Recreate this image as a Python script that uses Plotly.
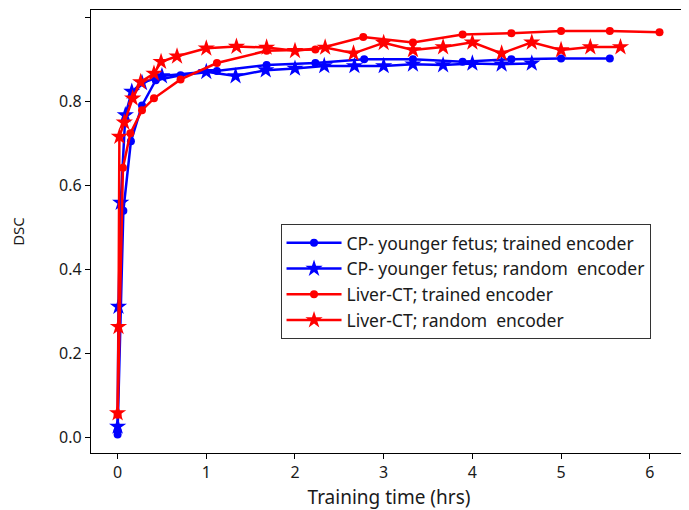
import plotly.graph_objects as go

# CP- younger fetus; trained encoder
cp_trained_x = [0.0, 0.0, 0.065, 0.15, 0.275, 0.43, 0.71, 1.12, 1.68, 2.23, 2.78,
                3.33, 3.89, 4.44, 5.0, 5.55]
cp_trained_y = [0.008, 0.016, 0.54, 0.705, 0.79, 0.85, 0.862, 0.872, 0.886, 0.891, 0.90,
                0.90, 0.894, 0.90, 0.902, 0.902]

# CP- younger fetus; random encoder
cp_random_x = [0.0, 0.01, 0.035, 0.087, 0.16, 0.275, 0.5, 1.0, 1.33, 1.67, 2.0, 2.33,
               2.67, 3.0, 3.33, 3.67, 4.0, 4.33, 4.67]
cp_random_y = [0.027, 0.312, 0.559, 0.767, 0.823, 0.844, 0.86, 0.87, 0.86, 0.874, 0.878,
               0.884, 0.884, 0.884, 0.888, 0.886, 0.89, 0.888, 0.89]

# Liver-CT; trained encoder
liver_trained_x = [0.0, 0.06, 0.144, 0.275, 0.41, 0.71, 1.12, 1.68, 2.23, 2.77, 3.33,
                   3.89, 4.44, 5.0, 5.55, 6.11]
liver_trained_y = [0.055, 0.642, 0.724, 0.779, 0.807, 0.852, 0.891, 0.92, 0.923, 0.953,
                   0.94, 0.959, 0.962, 0.967, 0.967, 0.964]

# Liver-CT; random encoder
liver_random_x = [0.0, 0.01, 0.02, 0.075, 0.17, 0.26, 0.41, 0.49, 0.67, 1.0, 1.34, 1.68,
                  2.0, 2.34, 2.66, 3.0, 3.33, 3.67, 4.0, 4.33, 4.67, 5.0, 5.33, 5.67]
liver_random_y = [0.059, 0.264, 0.716, 0.75, 0.807, 0.846, 0.866, 0.894, 0.907, 0.926,
                  0.93, 0.928, 0.92, 0.928, 0.914, 0.939, 0.922, 0.929, 0.94, 0.914,
                  0.94, 0.922, 0.929, 0.929]

BLUE = "#0000ff"
RED = "#ff0000"
FONT = "Noto Sans, Open Sans, sans-serif"

fig = go.Figure()
series = [
    (cp_trained_x, cp_trained_y, BLUE, "circle", 8, "CP- younger fetus; trained encoder"),
    (cp_random_x, cp_random_y, BLUE, "star", 13, "CP- younger fetus; random  encoder"),
    (liver_trained_x, liver_trained_y, RED, "circle", 8, "Liver-CT; trained encoder"),
    (liver_random_x, liver_random_y, RED, "star", 13, "Liver-CT; random  encoder"),
]
for x, y, col, sym, size, name in series:
    fig.add_trace(go.Scatter(
        x=x, y=y, mode="lines+markers", name=name,
        line=dict(color=col, width=2.5),
        marker=dict(symbol=sym, size=size, color=col, line=dict(width=0)),
    ))

axis = dict(showline=True, linecolor="black", linewidth=1.3, mirror=True,
            ticks="outside", ticklen=5, tickcolor="black", showgrid=False,
            zeroline=False, automargin=False, tickfont=dict(size=16, color="#1a1a1a"))

# page body keeps an 8px margin, so the figure is drawn 8px smaller
fig.update_layout(
    width=681, height=502,
    margin=dict(l=83, r=2, t=2, b=57),
    paper_bgcolor="white", plot_bgcolor="white",
    font=dict(family=FONT, color="#1a1a1a"),
    xaxis=dict(axis, range=[-0.30, 6.42], tickvals=[0, 1, 2, 3, 4, 5, 6],
               title=dict(text="Training time (hrs)", font=dict(size=19), standoff=8)),
    yaxis=dict(axis, range=[-0.036, 1.017], tickvals=[0, 0.2, 0.4, 0.6, 0.8, 1.0],
               tickformat=".1f",
               title=dict(text="DSC", font=dict(size=15), standoff=30)),
    legend=dict(x=0.318, y=0.517, xanchor="left", yanchor="top",
                bordercolor="#333", borderwidth=1, bgcolor="white",
                font=dict(size=17.5, color="#1a1a1a"), tracegroupgap=0,
                itemwidth=55),
    showlegend=True,
)

fig.write_html("out.html")
